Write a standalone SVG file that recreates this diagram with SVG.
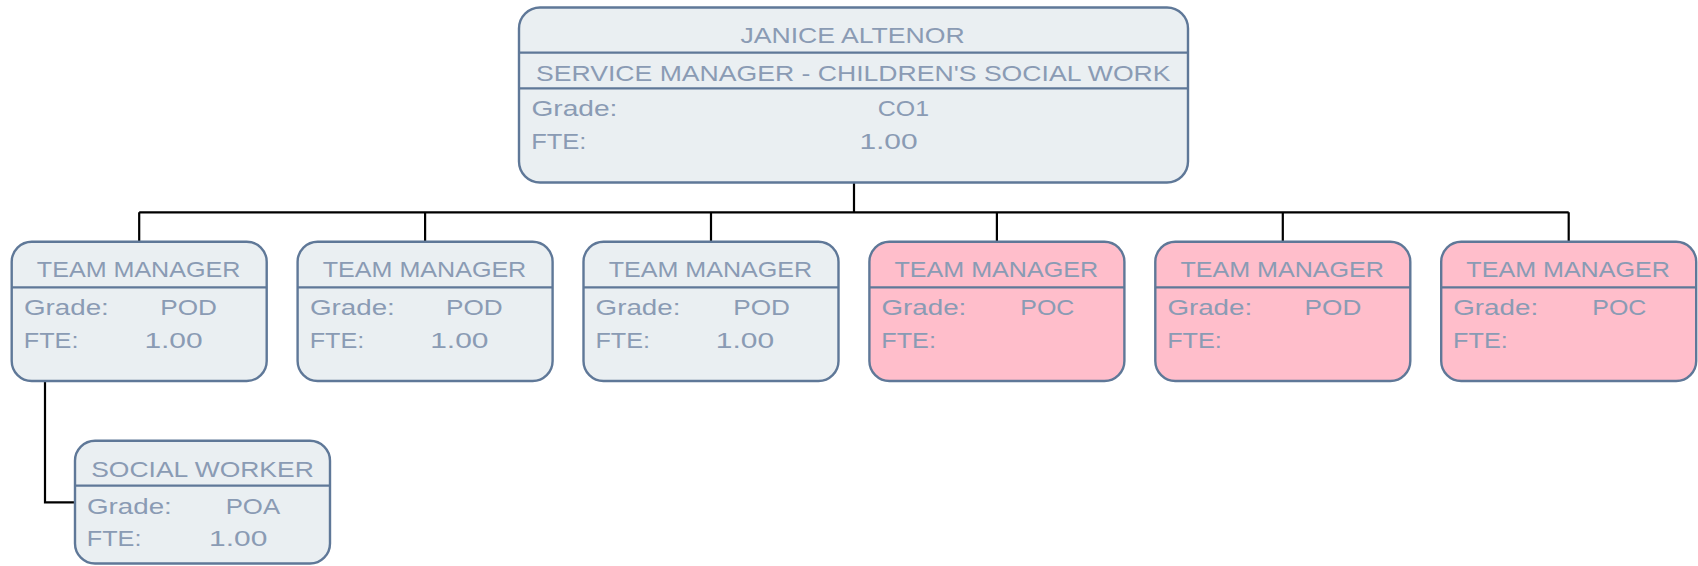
<svg xmlns="http://www.w3.org/2000/svg" width="1698" height="566" viewBox="0 0 1698 566">
<style>
.box{fill:#EAEFF2;stroke:#5F7898;stroke-width:2.4}
.pink{fill:#FFBECB}
.div{stroke:#5F7898;stroke-width:2.2;fill:none}
.t{font-family:"Liberation Sans",Arial,sans-serif;font-size:22px;fill:#8A9BB4}
.c{text-anchor:middle}
.conn{stroke:#000;stroke-width:2.2;fill:none}
</style>
<rect width="1698" height="566" fill="#fff"/>
<g id="connectors">
<path class="conn" d="M854 183 V212.3 M139.2 212.3 H1568.7 M139.2 212.3 V241.7 M425.1 212.3 V241.7 M711 212.3 V241.7 M996.9 212.3 V241.7 M1282.8 212.3 V241.7 M1568.7 212.3 V241.7"/>
<path class="conn" d="M45 381 V502.3 H75"/>
</g>
<g id="n0">
<rect class="box" x="519" y="7.5" width="669" height="175" rx="21"/>
<path class="div" d="M519 52.7 H1188 M519 88.3 H1188"/>
<text class="t c" x="852.6" y="43.3" textLength="224.3" lengthAdjust="spacingAndGlyphs">JANICE ALTENOR</text>
<text class="t c" x="853.3" y="80.7" textLength="634.5" lengthAdjust="spacingAndGlyphs">SERVICE MANAGER - CHILDREN'S SOCIAL WORK</text>
<text class="t" x="531.4" y="116" textLength="86" lengthAdjust="spacingAndGlyphs">Grade:</text>
<text class="t" x="877.8" y="116" textLength="51.2" lengthAdjust="spacingAndGlyphs">CO1</text>
<text class="t" x="531.2" y="148.7" textLength="55.2" lengthAdjust="spacingAndGlyphs">FTE:</text>
<text class="t" x="859.4" y="148.7" textLength="58.3" lengthAdjust="spacingAndGlyphs">1.00</text>
</g>
<g id="n1">
<rect class="box" x="11.7" y="241.7" width="255" height="139.3" rx="20"/>
<path class="div" d="M11.7 287.3 H266.7"/>
<text class="t c" x="138.6" y="277.3" textLength="203.5" lengthAdjust="spacingAndGlyphs">TEAM MANAGER</text>
<text class="t" x="24" y="315" textLength="84.8" lengthAdjust="spacingAndGlyphs">Grade:</text>
<text class="t" x="160.2" y="315" textLength="56.7" lengthAdjust="spacingAndGlyphs">POD</text>
<text class="t" x="23.8" y="348" textLength="54.6" lengthAdjust="spacingAndGlyphs">FTE:</text>
<text class="t" x="144.4" y="348" textLength="58.3" lengthAdjust="spacingAndGlyphs">1.00</text>
</g>
<g id="n2">
<rect class="box" x="297.6" y="241.7" width="255" height="139.3" rx="20"/>
<path class="div" d="M297.6 287.3 H552.6"/>
<text class="t c" x="424.5" y="277.3" textLength="203.5" lengthAdjust="spacingAndGlyphs">TEAM MANAGER</text>
<text class="t" x="310" y="315" textLength="84.8" lengthAdjust="spacingAndGlyphs">Grade:</text>
<text class="t" x="446" y="315" textLength="56.7" lengthAdjust="spacingAndGlyphs">POD</text>
<text class="t" x="309.7" y="348" textLength="54.6" lengthAdjust="spacingAndGlyphs">FTE:</text>
<text class="t" x="430.2" y="348" textLength="58.3" lengthAdjust="spacingAndGlyphs">1.00</text>
</g>
<g id="n3">
<rect class="box" x="583.5" y="241.7" width="255" height="139.3" rx="20"/>
<path class="div" d="M583.5 287.3 H838.5"/>
<text class="t c" x="710.4" y="277.3" textLength="203.5" lengthAdjust="spacingAndGlyphs">TEAM MANAGER</text>
<text class="t" x="595.6" y="315" textLength="84.8" lengthAdjust="spacingAndGlyphs">Grade:</text>
<text class="t" x="733.2" y="315" textLength="56.7" lengthAdjust="spacingAndGlyphs">POD</text>
<text class="t" x="595.4" y="348" textLength="54.6" lengthAdjust="spacingAndGlyphs">FTE:</text>
<text class="t" x="715.8" y="348" textLength="58.3" lengthAdjust="spacingAndGlyphs">1.00</text>
</g>
<g id="n4">
<rect class="box pink" x="869.4" y="241.7" width="255" height="139.3" rx="20"/>
<path class="div" d="M869.4 287.3 H1124.4"/>
<text class="t c" x="996.3" y="277.3" textLength="203.5" lengthAdjust="spacingAndGlyphs">TEAM MANAGER</text>
<text class="t" x="881.5" y="315" textLength="84.8" lengthAdjust="spacingAndGlyphs">Grade:</text>
<text class="t" x="1020.3" y="315" textLength="54" lengthAdjust="spacingAndGlyphs">POC</text>
<text class="t" x="881.3" y="348" textLength="54.6" lengthAdjust="spacingAndGlyphs">FTE:</text>
</g>
<g id="n5">
<rect class="box pink" x="1155.3" y="241.7" width="255" height="139.3" rx="20"/>
<path class="div" d="M1155.3 287.3 H1410.3"/>
<text class="t c" x="1282.2" y="277.3" textLength="203.5" lengthAdjust="spacingAndGlyphs">TEAM MANAGER</text>
<text class="t" x="1167.4" y="315" textLength="84.8" lengthAdjust="spacingAndGlyphs">Grade:</text>
<text class="t" x="1304.6" y="315" textLength="56.7" lengthAdjust="spacingAndGlyphs">POD</text>
<text class="t" x="1167.2" y="348" textLength="54.6" lengthAdjust="spacingAndGlyphs">FTE:</text>
</g>
<g id="n6">
<rect class="box pink" x="1441.2" y="241.7" width="255" height="139.3" rx="20"/>
<path class="div" d="M1441.2 287.3 H1696.2"/>
<text class="t c" x="1568.1" y="277.3" textLength="203.5" lengthAdjust="spacingAndGlyphs">TEAM MANAGER</text>
<text class="t" x="1453.3" y="315" textLength="84.8" lengthAdjust="spacingAndGlyphs">Grade:</text>
<text class="t" x="1592.3" y="315" textLength="54" lengthAdjust="spacingAndGlyphs">POC</text>
<text class="t" x="1453.1" y="348" textLength="54.6" lengthAdjust="spacingAndGlyphs">FTE:</text>
</g>
<g id="n7">
<rect class="box" x="75" y="440.7" width="255" height="122.8" rx="20"/>
<path class="div" d="M75 485.7 H330"/>
<text class="t c" x="202.5" y="476.7" textLength="222.6" lengthAdjust="spacingAndGlyphs">SOCIAL WORKER</text>
<text class="t" x="87" y="514" textLength="84.8" lengthAdjust="spacingAndGlyphs">Grade:</text>
<text class="t" x="225.7" y="514" textLength="54.4" lengthAdjust="spacingAndGlyphs">POA</text>
<text class="t" x="86.8" y="546" textLength="54.6" lengthAdjust="spacingAndGlyphs">FTE:</text>
<text class="t" x="209" y="546" textLength="58.3" lengthAdjust="spacingAndGlyphs">1.00</text>
</g>
</svg>
